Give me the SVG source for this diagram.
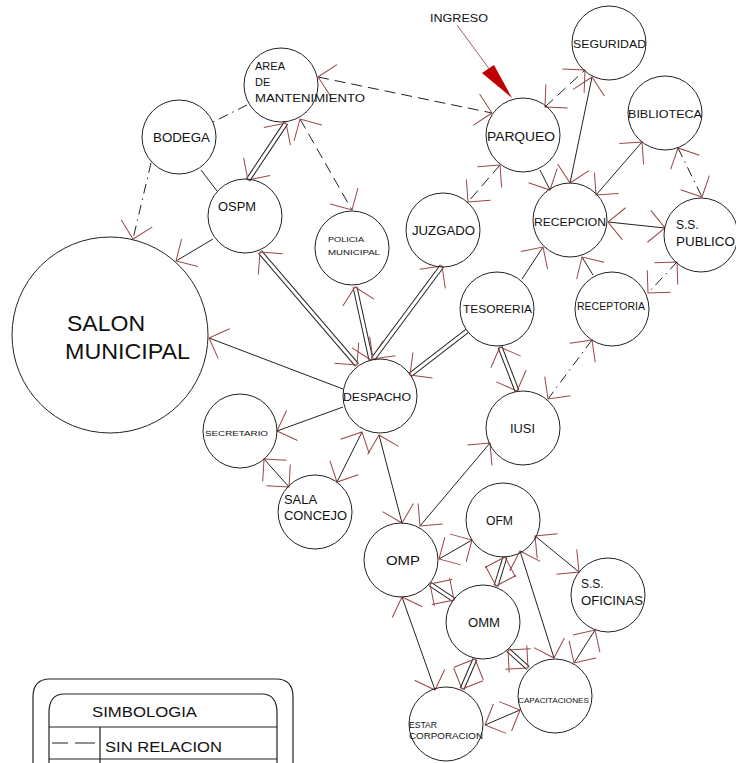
<svg xmlns="http://www.w3.org/2000/svg" width="736" height="763" viewBox="0 0 736 763">
<style>
.n{fill:none;stroke:#222;stroke-width:1}
.t{font-family:"Liberation Sans",Arial,sans-serif;fill:#111}
.s{fill:none;stroke:#222;stroke-width:1}
.d{fill:none;stroke:#222;stroke-width:1;stroke-dasharray:11 6}
.dd{fill:none;stroke:#222;stroke-width:1;stroke-dasharray:10 5 1.5 5}
.w{fill:none;stroke:#222;stroke-width:5}
.wi{fill:none;stroke:#fff;stroke-width:3}
.b{marker-start:url(#a);marker-end:url(#a)}
.e{marker-end:url(#a)}
.lg{fill:none;stroke:#222;stroke-width:1.2}
</style>
<defs>
<marker id="a" markerUnits="userSpaceOnUse" markerWidth="40" markerHeight="40" refX="20" refY="20" viewBox="0 0 40 40" orient="auto-start-reverse" overflow="visible">
<path d="M4,4 L20,20 L4,36" fill="none" stroke="#9a4646" stroke-width="1"/>
</marker>
</defs>
<rect width="736" height="763" fill="#fff"/>
<g id="connectors">
<path class="d b" d="M318,77 L492,113"/>
<path class="dd" d="M247,105 L213,122"/>
<path class="dd e" d="M151,163 L133,239"/>
<path class="s e" d="M213,239 L176,261"/>
<path class="s" d="M201,170 L217,191"/>
<path class="w" d="M286,123 L248,180"/><path class="wi b" d="M286,123 L248,180"/>
<path class="d b" d="M300,119 L352,210"/>
<path class="w" d="M260,252 L357,365"/><path class="wi b" d="M260,252 L357,365"/>
<path class="w" d="M355,287 L371,360"/><path class="wi b" d="M355,287 L371,360"/>
<path class="w" d="M442,266 L373,359"/><path class="wi b" d="M442,266 L373,359"/>
<path class="d b" d="M500,165 L468,202"/>
<path class="d b" d="M545,107 L585,70"/>
<path class="s e" d="M540,170 L550,190"/>
<path class="s b" d="M592,77 L570,183"/>
<path class="s b" d="M642,142 L596,195"/>
<path class="dd b" d="M678,148 L702,197"/>
<path class="s b" d="M608,222 L665,228"/>
<path class="dd b" d="M677,262 L648,293"/>
<path class="s e" d="M593,275 L582,257"/>
<path class="s e" d="M522,279 L543,247"/>
<path class="w" d="M467,331 L410,375"/><path class="wi e" d="M467,331 L410,375"/>
<path class="w" d="M500,347 L517,391"/><path class="wi b" d="M500,347 L517,391"/>
<path class="dd b" d="M592,340 L548,399"/>
<path class="s e" d="M343,389 L209,338"/>
<path class="s e" d="M343,407 L277,431"/>
<path class="s b" d="M264,459 L289,487"/>
<path class="s b" d="M362,432 L337,482"/>
<path class="s b" d="M379,435 L402,523"/>
<path class="s b" d="M490,443 L420,526"/>
<path class="s b" d="M439,559 L472,540"/>
<path class="w" d="M430,584 L454,600"/><path class="wi b" d="M430,584 L454,600"/>
<path class="w" d="M505,557 L496,586"/><path class="wi b" d="M505,557 L496,586"/>
<path class="s b" d="M535,536 L579,572"/>
<path class="s b" d="M520,551 L554,658"/>
<path class="s b" d="M402,597 L435,690"/>
<path class="w" d="M475,659 L462,689"/><path class="wi b" d="M475,659 L462,689"/>
<path class="w" d="M508,650 L528,668"/><path class="wi b" d="M508,650 L528,668"/>
<path class="s b" d="M595,630 L574,663"/>
<path class="s b" d="M485,725 L520,710"/>
<path d="M457,25 L490,70" fill="none" stroke="#8b3a3a" stroke-width="0.8"/>
<polygon points="482,73 494,65 512,98" fill="#c00000"/>
</g>
<g id="ingreso"><text class="t" x="430" y="22" font-size="11" textLength="58" lengthAdjust="spacingAndGlyphs">INGRESO</text></g>
<g id="area"><circle class="n" cx="281" cy="85" r="37"/>
<text class="t" x="255" y="70" font-size="11" textLength="30" lengthAdjust="spacingAndGlyphs">AREA</text>
<text class="t" x="255" y="86" font-size="11">DE</text>
<text class="t" x="255" y="102" font-size="11" textLength="110" lengthAdjust="spacingAndGlyphs">MANTENIMIENTO</text></g>
<g id="bodega"><circle class="n" cx="179" cy="137" r="37"/>
<text class="t" x="153" y="142" font-size="12" textLength="57" lengthAdjust="spacingAndGlyphs">BODEGA</text></g>
<g id="ospm"><circle class="n" cx="245" cy="216" r="37"/>
<text class="t" x="218" y="211" font-size="12" textLength="38" lengthAdjust="spacingAndGlyphs">OSPM</text></g>
<g id="policia"><circle class="n" cx="352" cy="248" r="37"/>
<text class="t" x="328" y="242" font-size="8" textLength="36" lengthAdjust="spacingAndGlyphs">POLICIA</text>
<text class="t" x="328" y="255" font-size="8" textLength="52" lengthAdjust="spacingAndGlyphs">MUNICIPAL</text></g>
<g id="salon"><circle class="n" cx="110" cy="335" r="98"/>
<text class="t" x="67" y="331" font-size="22" textLength="78" lengthAdjust="spacingAndGlyphs">SALON</text>
<text class="t" x="65" y="359" font-size="22" textLength="125" lengthAdjust="spacingAndGlyphs">MUNICIPAL</text></g>
<g id="seguridad"><circle class="n" cx="609" cy="43" r="37"/>
<text class="t" x="573" y="48" font-size="11" textLength="73" lengthAdjust="spacingAndGlyphs">SEGURIDAD</text></g>
<g id="biblioteca"><circle class="n" cx="665" cy="113" r="37"/>
<text class="t" x="628" y="118" font-size="11" textLength="74" lengthAdjust="spacingAndGlyphs">BIBLIOTECA</text></g>
<g id="parqueo"><circle class="n" cx="523" cy="135" r="37"/>
<text class="t" x="487" y="141" font-size="12" textLength="68" lengthAdjust="spacingAndGlyphs">PARQUEO</text></g>
<g id="recepcion"><circle class="n" cx="570" cy="220" r="37"/>
<text class="t" x="534" y="226" font-size="11" textLength="72" lengthAdjust="spacingAndGlyphs">RECEPCION</text></g>
<g id="juzgado"><circle class="n" cx="443" cy="230" r="37"/>
<text class="t" x="412" y="235" font-size="12" textLength="63" lengthAdjust="spacingAndGlyphs">JUZGADO</text></g>
<g id="sspublico"><circle class="n" cx="701" cy="235" r="37"/>
<text class="t" x="676" y="229" font-size="12">S.S.</text>
<text class="t" x="676" y="246" font-size="12" textLength="59" lengthAdjust="spacingAndGlyphs">PUBLICO</text></g>
<g id="tesoreria"><circle class="n" cx="497" cy="309" r="37"/>
<text class="t" x="463" y="313" font-size="11" textLength="69" lengthAdjust="spacingAndGlyphs">TESORERIA</text></g>
<g id="receptoria"><circle class="n" cx="612" cy="309" r="37"/>
<text class="t" x="577" y="310" font-size="10" textLength="68" lengthAdjust="spacingAndGlyphs">RECEPTORIA</text></g>
<g id="despacho"><circle class="n" cx="380" cy="396" r="37"/>
<text class="t" x="343" y="401" font-size="11" textLength="68" lengthAdjust="spacingAndGlyphs">DESPACHO</text></g>
<g id="iusi"><circle class="n" cx="523" cy="428" r="37"/>
<text class="t" x="510" y="433" font-size="12" textLength="25" lengthAdjust="spacingAndGlyphs">IUSI</text></g>
<g id="secretario"><circle class="n" cx="240" cy="431" r="37"/>
<text class="t" x="205" y="436" font-size="8" textLength="63" lengthAdjust="spacingAndGlyphs">SECRETARIO</text></g>
<g id="salaconcejo"><circle class="n" cx="315" cy="512" r="37"/>
<text class="t" x="284" y="504" font-size="12" textLength="33" lengthAdjust="spacingAndGlyphs">SALA</text>
<text class="t" x="284" y="520" font-size="12" textLength="63" lengthAdjust="spacingAndGlyphs">CONCEJO</text></g>
<g id="omp"><circle class="n" cx="401" cy="560" r="37"/>
<text class="t" x="386" y="565" font-size="12" textLength="34" lengthAdjust="spacingAndGlyphs">OMP</text></g>
<g id="ofm"><circle class="n" cx="503" cy="520" r="37"/>
<text class="t" x="486" y="525" font-size="12" textLength="27" lengthAdjust="spacingAndGlyphs">OFM</text></g>
<g id="ssoficinas"><circle class="n" cx="608" cy="595" r="37"/>
<text class="t" x="581" y="588" font-size="12">S.S.</text>
<text class="t" x="581" y="605" font-size="12" textLength="62" lengthAdjust="spacingAndGlyphs">OFICINAS</text></g>
<g id="omm"><circle class="n" cx="483" cy="622" r="37"/>
<text class="t" x="468" y="627" font-size="12" textLength="32" lengthAdjust="spacingAndGlyphs">OMM</text></g>
<g id="capacitaciones"><circle class="n" cx="555" cy="696" r="37"/>
<text class="t" x="518" y="703" font-size="7" textLength="71" lengthAdjust="spacingAndGlyphs">CAPACITACIONES</text></g>
<g id="estar"><circle class="n" cx="446" cy="724" r="37"/>
<text class="t" x="409" y="728" font-size="9" textLength="28" lengthAdjust="spacingAndGlyphs">ESTAR</text>
<text class="t" x="409" y="739" font-size="9" textLength="74" lengthAdjust="spacingAndGlyphs">CORPORACION</text></g>
<g id="legend">
<path class="lg" d="M33,763 L33,697 Q33,679 50,679 L276,679 Q293,679 293,697 L293,763"/>
<path class="lg" d="M49,763 L49,713 Q49,694 64,694 L262,694 Q277,694 277,713 L277,763"/>
<path class="lg" d="M49,727 L277,727 M49,759 L277,759 M100,727 L100,763"/>
<path class="s" d="M52,743 L68,743 M75,743 L95,743"/>
<text class="t" x="92" y="717" font-size="14" textLength="105" lengthAdjust="spacingAndGlyphs">SIMBOLOGIA</text>
<text class="t" x="105" y="752" font-size="14" textLength="117" lengthAdjust="spacingAndGlyphs">SIN RELACION</text>
</g>
</svg>
